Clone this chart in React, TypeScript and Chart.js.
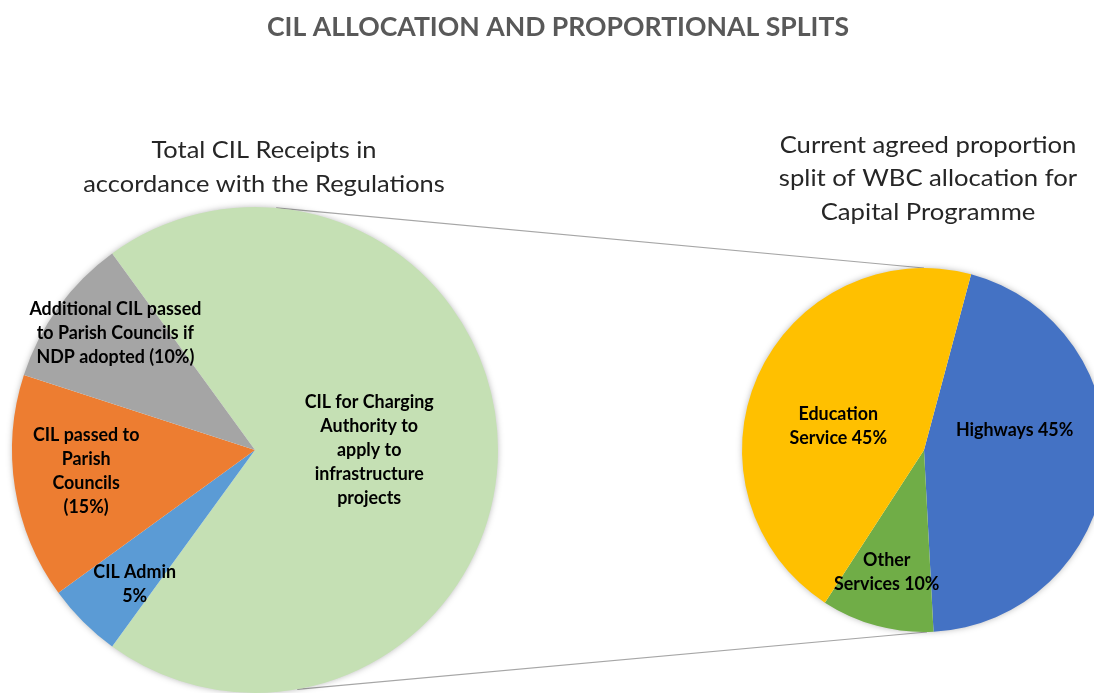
import React, { useEffect, useRef } from 'react';
import { Chart, registerables } from 'chart.js';
Chart.register(...registerables);

const mainTitle = 'CIL ALLOCATION AND PROPORTIONAL SPLITS';
const leftTitle = ['Total CIL Receipts in', 'accordance with the Regulations'];
const rightTitle = ['Current agreed proportion', 'split of WBC allocation for', 'Capital Programme'];

const leftCategories = [
  'CIL for Charging Authority to apply to infrastructure projects',
  'CIL Admin 5%',
  'CIL passed to Parish Councils (15%)',
  'Additional CIL passed to Parish Councils if NDP adopted (10%)',
];
const leftValues = [70, 5, 15, 10];
const leftLabelLines = [
  ['CIL for Charging', 'Authority to', 'apply to', 'infrastructure', 'projects'],
  ['CIL Admin', '5%'],
  ['CIL passed to', 'Parish', 'Councils', '(15%)'],
  ['Additional CIL passed', 'to Parish Councils if', 'NDP adopted (10%)'],
];
const leftColors = ['#C5E0B4', '#5B9BD5', '#ED7D31', '#A5A5A5'];

const rightCategories = ['Highways', 'Other Services', 'Education Service'];
const rightValues = [45, 10, 45];
const rightLabelLines = [['Highways 45%'], ['Other', 'Services 10%'], ['Education', 'Service 45%']];
const rightColors = ['#4472C4', '#70AD47', '#FFC000'];

// layout (styles / positions)
const W = 1094;
const H = 693;
const WB = 1200;
const LEFT = { cx: 255, cy: 450, r: 243, rotation: -36 };
const RIGHT = { cx: 924, cy: 450, r: 182, rotation: 15 };
// label placement: radial fraction & angle tweak (deg)
const leftLabelPlace = [
  { f: 0.47, d: 0 },
  { f: 0.74, d: -3 },
  { f: 0.7, d: 2 },
  { f: 0.75, d: 4 },
];
const rightLabelPlace = [
  { f: 0.51, d: -18.5 },
  { f: 0.7, d: 2 },
  { f: 0.49, d: -8 },
];
const FONT = 'Lato, "Open Sans", sans-serif';

function drawText(ctx: CanvasRenderingContext2D, text: string, x: number, y: number, sx = 1) {
  ctx.save();
  ctx.translate(x, y);
  ctx.scale(sx, 1);
  ctx.fillText(text, 0, 0);
  ctx.restore();
}

function drawLabels(chart: any, lines: string[][], place: { f: number; d: number }[]) {
  const ctx = chart.ctx as CanvasRenderingContext2D;
  const meta = chart.getDatasetMeta(0);
  ctx.save();
  ctx.font = `bold 19px ${FONT}`;
  ctx.fillStyle = '#000000';
  ctx.textAlign = 'center';
  ctx.textBaseline = 'middle';
  meta.data.forEach((arc: any, i: number) => {
    const p = arc.getProps(['x', 'y', 'startAngle', 'endAngle', 'outerRadius'], true);
    const a = (p.startAngle + p.endAngle) / 2 + (place[i].d * Math.PI) / 180;
    const r = p.outerRadius * place[i].f;
    const lx = p.x + Math.cos(a) * r;
    const ly = p.y + Math.sin(a) * r;
    const ls = lines[i];
    const lh = 24;
    ls.forEach((t, k) => {
      drawText(ctx, t, lx, ly + (k - (ls.length - 1) / 2) * lh, 0.94);
    });
  });
  ctx.restore();
}

function shadowPlugin(id: string) {
  return {
    id,
    beforeDatasetsDraw(chart: any) {
      const meta = chart.getDatasetMeta(0);
      const arc = meta.data[0];
      if (!arc) return;
      const ctx = chart.ctx as CanvasRenderingContext2D;
      ctx.save();
      ctx.shadowColor = 'rgba(0,0,0,0.35)';
      ctx.shadowBlur = 7;
      ctx.fillStyle = '#ffffff';
      ctx.beginPath();
      ctx.arc(arc.x, arc.y, arc.outerRadius - 1, 0, Math.PI * 2);
      ctx.fill();
      ctx.restore();
    },
  };
}

export default function App() {
  const refA = useRef<HTMLCanvasElement>(null);
  const refB = useRef<HTMLCanvasElement>(null);

  useEffect(() => {
    document.body.style.margin = '0';
    const connectorPlugin = {
      id: 'connectors',
      beforeDatasetsDraw(chart: any) {
        const ctx = chart.ctx as CanvasRenderingContext2D;
        ctx.save();
        ctx.strokeStyle = '#A6A6A6';
        ctx.lineWidth = 1.2;
        const deg = Math.PI / 180;
        const t1 = 5 * deg;
        const b1 = 170 * deg;
        ctx.beginPath();
        ctx.moveTo(LEFT.cx + LEFT.r * Math.sin(t1), LEFT.cy - LEFT.r * Math.cos(t1));
        ctx.lineTo(RIGHT.cx, RIGHT.cy - RIGHT.r);
        ctx.moveTo(LEFT.cx + LEFT.r * Math.sin(b1), LEFT.cy - LEFT.r * Math.cos(b1));
        ctx.lineTo(RIGHT.cx + 3, RIGHT.cy + RIGHT.r);
        ctx.stroke();
        ctx.restore();
      },
    };
    const textPlugin = {
      id: 'texts',
      afterDatasetsDraw(chart: any) {
        const ctx = chart.ctx as CanvasRenderingContext2D;
        ctx.save();
        ctx.textAlign = 'center';
        ctx.textBaseline = 'middle';
        ctx.fillStyle = '#595959';
        ctx.font = `bold 27px ${FONT}`;
        drawText(ctx, mainTitle, 558, 27, 0.985);
        ctx.fillStyle = '#262626';
        ctx.font = `24px ${FONT}`;
        leftTitle.forEach((t, i) => drawText(ctx, t, 264, 150 + i * 34, 1.06));
        rightTitle.forEach((t, i) => drawText(ctx, t, 928, 145 + i * 33.5, 1.07));
        ctx.restore();
        drawLabels(chart, leftLabelLines, leftLabelPlace);
      },
    };
    const chartA = new Chart(refA.current!, {
      type: 'pie',
      data: {
        labels: leftCategories,
        datasets: [{ data: leftValues, backgroundColor: leftColors, borderWidth: 0 }],
      },
      options: {
        responsive: false,
        animation: false,
        rotation: LEFT.rotation,
        layout: {
          padding: {
            left: LEFT.cx - LEFT.r,
            right: W - (LEFT.cx + LEFT.r),
            top: LEFT.cy - LEFT.r,
            bottom: H - (LEFT.cy + LEFT.r),
          },
        },
        plugins: { legend: { display: false }, tooltip: { enabled: false }, title: { display: false } },
      },
      plugins: [connectorPlugin, shadowPlugin('shadowA'), textPlugin],
    });
    const labelPluginB = {
      id: 'labelsB',
      afterDatasetsDraw(chart: any) {
        drawLabels(chart, rightLabelLines, rightLabelPlace);
      },
    };
    const chartB = new Chart(refB.current!, {
      type: 'pie',
      data: {
        labels: rightCategories,
        datasets: [{ data: rightValues, backgroundColor: rightColors, borderWidth: 0 }],
      },
      options: {
        responsive: false,
        animation: false,
        rotation: RIGHT.rotation,
        layout: {
          padding: {
            left: RIGHT.cx - RIGHT.r,
            right: WB - (RIGHT.cx + RIGHT.r),
            top: RIGHT.cy - RIGHT.r,
            bottom: H - (RIGHT.cy + RIGHT.r),
          },
        },
        plugins: { legend: { display: false }, tooltip: { enabled: false }, title: { display: false } },
      },
      plugins: [shadowPlugin('shadowB'), labelPluginB],
    });
    return () => {
      chartA.destroy();
      chartB.destroy();
    };
  }, []);

  return (
    <div style={{ position: 'relative', width: W, height: H, overflow: 'hidden', background: '#ffffff' }}>
      <canvas ref={refA} width={W} height={H} style={{ position: 'absolute', left: 0, top: 0, width: W, height: H }} />
      <canvas ref={refB} width={WB} height={H} style={{ position: 'absolute', left: 0, top: 0, width: WB, height: H }} />
    </div>
  );
}
